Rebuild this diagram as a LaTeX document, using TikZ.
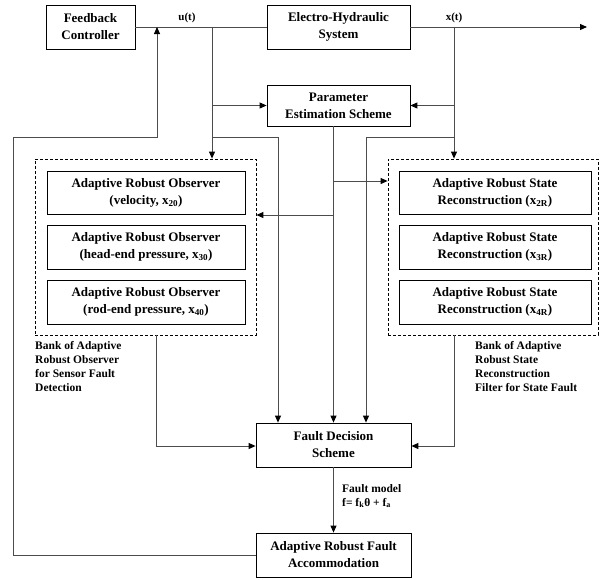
\documentclass[tikz,border=0pt]{standalone}
\usepackage{fontspec}
\setmainfont{Liberation Serif}
\usetikzlibrary{arrows.meta}
\begin{document}
\begin{tikzpicture}[x=1pt,y=-1pt,
  box/.style={draw=black,line width=0.8pt,fill=white,inner sep=0pt,align=center,font=\bfseries\fontsize{13}{17}\selectfont},
  bank/.style={draw=black,line width=0.8pt,dash pattern=on 3pt off 2pt,inner sep=0pt},
  conn/.style={draw=black!70,line width=0.9pt},
  arr/.style={conn,-{Triangle[length=7pt,width=6pt,color=black]}},
  lab/.style={font=\bfseries\fontsize{11}{14}\selectfont,inner sep=0pt},
  note/.style={font=\bfseries\fontsize{11.5}{14}\selectfont,align=left,inner sep=0pt,anchor=north west}]
\useasboundingbox (0,0) rectangle (600,579);

% blocks
\node[box,minimum width=89,minimum height=44] (fc) at (90.5,27) {Feedback\\Controller};
\node[box,minimum width=143,minimum height=44] (eh) at (338.5,27) {Electro-Hydraulic\\System};
\node[box,minimum width=143,minimum height=41] (pe) at (338.5,105.5) {Parameter\\Estimation Scheme};

\node[bank,minimum width=221,minimum height=176] (lb) at (145.5,247) {};
\node[box,minimum width=198,minimum height=43] (o2) at (146,192.5) {Adaptive Robust Observer\\(velocity, x\textsubscript{20})};
\node[box,minimum width=198,minimum height=44] (o3) at (146,247) {Adaptive Robust Observer\\(head-end pressure, x\textsubscript{30})};
\node[box,minimum width=198,minimum height=44] (o4) at (146,302) {Adaptive Robust Observer\\(rod-end pressure, x\textsubscript{40})};

\node[bank,minimum width=210,minimum height=176] (rb) at (493,247) {};
\node[box,minimum width=192,minimum height=43] (s2) at (495,192.5) {Adaptive Robust State\\Reconstruction (x\textsubscript{2R})};
\node[box,minimum width=192,minimum height=44] (s3) at (495,247) {Adaptive Robust State\\Reconstruction (x\textsubscript{3R})};
\node[box,minimum width=192,minimum height=44] (s4) at (495,302) {Adaptive Robust State\\Reconstruction (x\textsubscript{4R})};

\node[box,minimum width=155,minimum height=44] (fd) at (333.5,445) {Fault Decision\\Scheme};
\node[box,minimum width=155,minimum height=44] (ac) at (333.5,555) {Adaptive Robust Fault\\Accommodation};

% labels
\node[lab] (ut) at (187,18) {u(t)};
\node[lab] (xt) at (454,18) {x(t)};
\node[note] (ln) at (35,341) {Bank of Adaptive\\Robust Observer\\for Sensor Fault\\Detection};
\node[note] (rn) at (475,341) {Bank of Adaptive\\Robust State\\Reconstruction\\Filter for State Fault};
\node[note] (fm) at (342,484) {Fault model\\f= f\textsubscript{k}θ + f\textsubscript{a}};

% junction coordinates
\coordinate (jf) at (157,27);
\coordinate (ju) at (212,27);
\coordinate (jx) at (454,27);
\coordinate (out) at (587,27);
\coordinate (cu) at (212,137);
\coordinate (ku) at (278,137);
\coordinate (cx) at (454,137);
\coordinate (kx) at (366,137);
\coordinate (pd) at (pe.south -| fd.north);
\coordinate (pr) at (333,181);
\coordinate (pl) at (333,215);
\coordinate (lbd) at (156,335);
\coordinate (lbc) at (156,446);
\coordinate (rbd) at (454,335);
\coordinate (rbc) at (454,446);
\coordinate (l1) at (13,555);
\coordinate (l2) at (13,137);
\coordinate (l3) at (157,137);

% main path
\draw[conn] (fc.east) -- (eh.west);
\draw[arr] (eh.east) -- (out);

% u(t) branch
\draw[arr] (ju) -- (ju |- lb.north);
\draw[arr] (ju |- pe.west) -- (pe.west);
\draw[arr] (cu) -- (ku) -- (ku |- fd.north);

% x(t) branch
\draw[arr] (jx) -- (jx |- rb.north);
\draw[arr] (jx |- pe.east) -- (pe.east);
\draw[arr] (cx) -- (kx) -- (kx |- fd.north);

% parameter estimates
\draw[arr] (pd) -- (fd.north);
\draw[arr] (pr) -- (pr -| rb.west);
\draw[arr] (pl) -- (pl -| lb.east);

% banks to decision
\draw[arr] (lbd) -- (lbc) -- (lbc -| fd.west);
\draw[arr] (rbd) -- (rbc) -- (rbc -| fd.east);

% decision to accommodation
\draw[arr] (fd.south) -- (ac.north);

% feedback loop
\draw[arr] (ac.west) -- (l1) -- (l2) -- (l3) -- (jf);
\end{tikzpicture}
\end{document}
